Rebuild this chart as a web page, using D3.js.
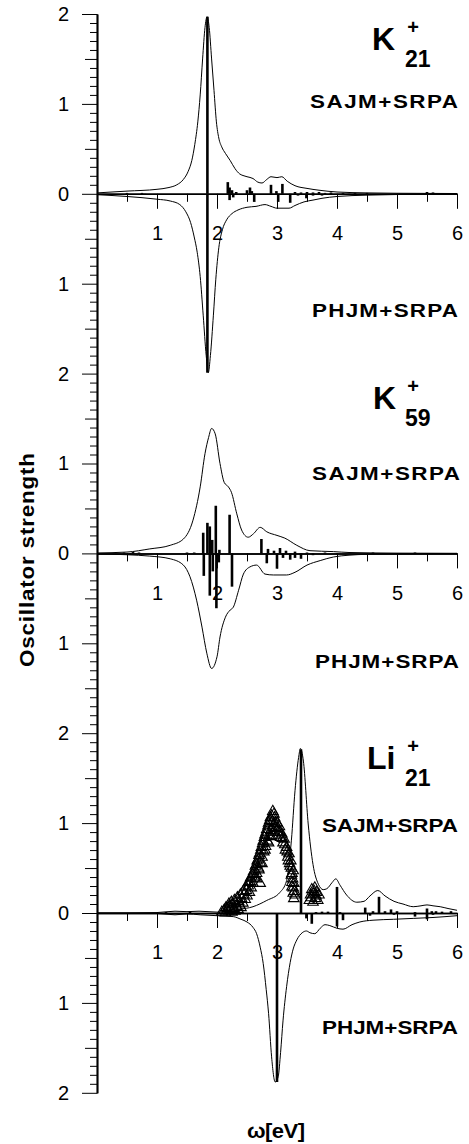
<!DOCTYPE html>
<html>
<head>
<meta charset="utf-8">
<script src="https://d3js.org/d3.v7.min.js"></script>
<style>
body { margin:0; background:#fff; }
svg { display:block; }
.axis text { font-family: "Liberation Sans", Arial, sans-serif; font-size: 20px; fill:#000; }
.axis path, .axis line { stroke:#000; }
.axis path { stroke-width:1.5px; }
.lbl { font-family: "Liberation Sans", Arial, sans-serif; font-weight: bold; fill:#000; }
</style>
</head>
<body>
<script>
// ---- data (omega [eV], oscillator strength) ----
var xTickLabels = [1, 2, 3, 4, 5, 6];
var yTickLabels = [0, 1, 2];

// K21+  SAJM+SRPA (upper) / PHJM+SRPA (lower)
var k21SajmCurve = [[0,0.01],[0.5,0.03],[1.0,0.05],[1.2,0.07],[1.33,0.1],[1.44,0.16],[1.52,0.25],[1.58,0.37],
  [1.63,0.55],[1.68,0.8],[1.72,1.1],[1.76,1.5],[1.8,1.85],[1.835,1.97],[1.87,1.85],[1.91,1.5],[1.95,1.15],
  [1.99,0.8],[2.03,0.62],[2.08,0.52],[2.14,0.45],[2.22,0.37],[2.3,0.28],[2.38,0.22],[2.45,0.2],[2.5,0.19],
  [2.6,0.17],[2.68,0.13],[2.75,0.12],[2.83,0.16],[2.9,0.19],[3.0,0.18],[3.08,0.19],[3.17,0.14],[3.3,0.09],
  [3.5,0.06],[3.7,0.04],[4.0,0.02],[4.5,0.01],[5.0,0.006],[6.0,0.003]];
var k21PhjmCurve = [[0,0.01],[0.5,0.03],[1.0,0.06],[1.22,0.08],[1.38,0.12],[1.48,0.2],[1.56,0.32],[1.62,0.48],
  [1.67,0.65],[1.72,0.92],[1.77,1.35],[1.82,1.8],[1.855,1.99],[1.89,1.8],[1.94,1.35],[1.98,0.95],[2.03,0.6],
  [2.09,0.4],[2.16,0.29],[2.25,0.22],[2.35,0.18],[2.5,0.15],[2.65,0.14],[2.8,0.12],[2.9,0.14],[3.0,0.16],
  [3.1,0.16],[3.2,0.16],[3.3,0.13],[3.45,0.09],[3.6,0.07],[3.75,0.05],[4.0,0.03],[4.5,0.015],[5.0,0.008],[6.0,0.003]];
var k21SajmSticks = [[0.5,0.01],[0.75,0.01],[1.84,1.97],[2.18,0.13],[2.21,0.07],[2.25,0.04],[2.32,0.02],
  [2.5,0.04],[2.55,0.07],[2.58,0.03],[2.9,0.1],[2.99,0.03],[3.09,0.11],[3.3,0.02],[3.4,0.015],[3.5,0.02],
  [3.6,0.015],[3.7,0.02],[3.8,0.01],[3.9,0.015],[4.1,0.01],[4.3,0.01],[4.5,0.01],[5.5,0.02],[5.6,0.015]];
var k21PhjmSticks = [[0.8,0.01],[1.84,1.99],[2.21,0.07],[2.27,0.04],[2.62,0.09],[3.02,0.09],[3.22,0.1],
  [3.35,0.02],[3.49,0.05],[3.6,0.02],[3.75,0.02],[3.9,0.01],[4.2,0.01]];

// K59+
var k59SajmCurve = [[0,0.005],[0.5,0.015],[0.88,0.05],[1.22,0.09],[1.44,0.16],[1.6,0.37],[1.72,0.74],
  [1.8,1.11],[1.86,1.29],[1.91,1.39],[1.97,1.33],[2.05,1.0],[2.12,0.79],[2.19,0.74],[2.24,0.68],[2.33,0.44],
  [2.41,0.26],[2.52,0.18],[2.61,0.22],[2.72,0.29],[2.83,0.24],[3.0,0.2],[3.13,0.17],[3.33,0.09],[3.55,0.03],
  [3.94,0.02],[4.2,0.01],[5.0,0.003],[6.0,0.001]];
var k59PhjmCurve = [[0,0.005],[0.5,0.015],[0.88,0.03],[1.22,0.06],[1.44,0.13],[1.55,0.26],[1.66,0.52],
  [1.75,0.82],[1.83,1.11],[1.91,1.28],[2.0,1.15],[2.05,0.93],[2.14,0.71],[2.22,0.63],[2.27,0.6],[2.36,0.41],
  [2.44,0.23],[2.55,0.15],[2.66,0.13],[2.8,0.23],[2.94,0.24],[3.16,0.24],[3.3,0.21],[3.5,0.13],[3.72,0.08],
  [3.94,0.04],[4.2,0.02],[4.5,0.01],[5.0,0.005],[6.0,0.001]];
var k59SajmSticks = [[0.45,0.01],[0.6,0.015],[0.7,0.01],[1.5,0.01],[1.62,0.01],[1.77,0.23],[1.84,0.34],
  [1.88,0.3],[1.92,0.15],[1.98,0.53],[2.04,0.04],[2.21,0.43],[2.74,0.16],[2.85,0.05],[2.95,0.03],
  [3.05,0.06],[3.15,0.03],[3.3,0.02],[3.5,0.01],[3.8,0.01],[4.6,0.01],[5.3,0.01]];
var k59PhjmSticks = [[0.55,0.01],[1.78,0.25],[1.88,0.47],[1.93,0.2],[1.99,0.61],[2.03,0.1],[2.25,0.37],
  [2.83,0.11],[3.0,0.17],[3.1,0.05],[3.22,0.07],[3.3,0.05],[3.4,0.06],[3.6,0.02],[4.0,0.01]];

// Li21+
var li21SajmCurve = [[0,0.0],[1.0,0.005],[1.3,0.02],[1.5,0.015],[1.7,0.02],[2.0,0.01],[2.16,0.01],
  [2.38,0.04],[2.6,0.07],[2.83,0.14],[3.05,0.23],[3.16,0.36],[3.24,0.81],[3.3,1.36],[3.36,1.73],[3.39,1.83],
  [3.44,1.69],[3.52,0.99],[3.6,0.54],[3.69,0.32],[3.77,0.26],[3.83,0.27],[3.92,0.34],[3.98,0.38],[4.05,0.31],
  [4.16,0.2],[4.33,0.12],[4.45,0.13],[4.55,0.19],[4.68,0.25],[4.8,0.19],[4.95,0.13],[5.1,0.1],[5.27,0.07],
  [5.4,0.08],[5.5,0.09],[5.6,0.08],[5.72,0.07],[5.85,0.05],[6.0,0.03]];
var li21PhjmCurve = [[0,0.0],[1.0,0.005],[1.3,0.02],[1.5,0.01],[1.72,0.02],[2.0,0.03],[2.27,0.04],[2.4,0.07],
  [2.5,0.1],[2.6,0.16],[2.66,0.23],[2.72,0.38],[2.77,0.56],[2.82,0.85],[2.86,1.12],[2.91,1.6],[2.97,1.88],
  [3.02,1.82],[3.06,1.55],[3.1,1.2],[3.16,0.82],[3.22,0.55],[3.27,0.4],[3.33,0.3],[3.42,0.22],[3.49,0.2],
  [3.55,0.22],[3.63,0.23],[3.72,0.17],[3.8,0.13],[3.88,0.14],[4.0,0.17],[4.1,0.18],[4.25,0.13],[4.38,0.1],
  [4.6,0.08],[4.94,0.07],[5.27,0.06],[5.6,0.05],[6.0,0.03]];
var li21SajmSticks = [[1.15,0.01],[1.55,0.015],[3.4,1.82],[3.65,0.01],[3.75,0.015],[3.85,0.015],[4.0,0.29],
  [4.05,0.01],[4.47,0.06],[4.6,0.02],[4.7,0.18],[4.8,0.02],[4.9,0.04],[5.0,0.02],[5.3,0.01],[5.5,0.05],
  [5.58,0.02],[5.65,0.02],[5.75,0.015],[5.9,0.02]];
var li21PhjmSticks = [[3.0,1.88],[3.49,0.06],[3.58,0.12],[4.0,0.15],[4.1,0.08],[4.55,0.03],[4.95,0.02],
  [5.3,0.04],[5.5,0.07],[5.6,0.02]];
// experimental points (triangles), Li21+
var li21Exp = [[2.08,0.01],[2.12,0.03],[2.14,0.0],[2.17,0.05],[2.19,0.02],[2.21,0.07],[2.23,0.04],[2.25,0.01],
  [2.26,0.09],[2.28,0.05],[2.3,0.02],[2.31,0.11],[2.33,0.07],[2.35,0.04],[2.36,0.13],[2.38,0.09],[2.4,0.06],
  [2.41,0.16],[2.43,0.11],[2.45,0.2],[2.47,0.15],[2.49,0.25],[2.5,0.19],[2.52,0.3],[2.54,0.23],[2.55,0.35],
  [2.57,0.28],[2.58,0.41],[2.6,0.33],[2.61,0.46],[2.63,0.39],[2.64,0.52],[2.66,0.44],[2.67,0.58],[2.69,0.5],
  [2.7,0.64],[2.72,0.56],[2.72,0.33],[2.73,0.7],[2.75,0.62],[2.76,0.77],[2.78,0.68],[2.79,0.84],[2.81,0.74],
  [2.82,0.9],[2.84,0.8],[2.85,0.97],[2.87,0.86],[2.88,1.03],[2.9,0.92],[2.91,1.08],[2.93,1.13],[2.94,0.98],
  [2.96,1.06],[2.98,0.95],[3.0,1.0],[3.02,0.9],[3.04,0.96],[3.06,0.84],[3.08,0.88],[3.1,0.78],[3.12,0.82],
  [3.14,0.7],[3.16,0.73],[3.18,0.62],[3.2,0.66],[3.21,0.55],[3.23,0.58],[3.24,0.5],[3.25,0.44],[3.27,0.47],
  [3.26,0.38],[3.28,0.33],[3.27,0.28],[3.29,0.24],[3.3,0.2],[3.28,0.16],
  [2.15,0.06],[2.2,0.1],[2.24,0.12],[2.29,0.14],[2.34,0.17],[2.39,0.2],[2.44,0.24],[2.48,0.29],[2.53,0.34],
  [2.56,0.39],[2.6,0.43],[2.63,0.48],[2.66,0.54],[2.69,0.6],[2.71,0.66],[2.74,0.73],[2.77,0.8],[2.8,0.87],
  [2.83,0.93],[2.86,1.0],[2.89,1.06],[2.92,1.02],[2.95,1.1],[2.97,1.0],[3.01,0.94],[3.05,0.9],[3.09,0.83],
  [3.13,0.76],[3.17,0.68],[3.19,0.58],[3.22,0.52],[3.24,0.42],[3.25,0.34],[3.27,0.22],[3.25,0.29],
  [2.86,0.78],[2.9,0.85],[2.94,0.9],[2.99,0.86],[2.8,0.7],[2.75,0.55],[2.7,0.48],[2.66,0.38],
  [3.54,0.14],[3.56,0.2],[3.58,0.26],[3.6,0.12],[3.61,0.21],[3.63,0.28],[3.64,0.16],[3.66,0.23],[3.68,0.14],[3.7,0.2],
  [3.57,0.17],[3.62,0.24],[3.65,0.19]];

// ---- layout ----
var W = 469, H = 1144;
var UNIT = 89.9, TOP = 14;
var svg = d3.select("body").append("svg").attr("width", W).attr("height", H);

var x = d3.scaleLinear().domain([0, 6]).range([97, 457]);

var panels = [
  {zero: TOP + 2 * UNIT, up: k21SajmCurve, dn: k21PhjmCurve, upS: k21SajmSticks, dnS: k21PhjmSticks,
   atom: "K", sub: "21", atomX: 372, sajm: [310, 108, 148], phjm: [312, 317, 146], topLabel: true},
  {zero: TOP + 6 * UNIT, up: k59SajmCurve, dn: k59PhjmCurve, upS: k59SajmSticks, dnS: k59PhjmSticks,
   atom: "K", sub: "59", atomX: 373, sajm: [312, 480, 148], phjm: [315, 668, 144], topLabel: false},
  {zero: TOP + 10 * UNIT, up: li21SajmCurve, dn: li21PhjmCurve, upS: li21SajmSticks, dnS: li21PhjmSticks,
   atom: "Li", sub: "21", atomX: 367, sajm: [322, 832, 136], phjm: [322, 1034, 136], topLabel: false, exp: li21Exp}
];

var minorTicks = d3.range(1, 20).filter(function(i) { return i % 5 !== 0; }).map(function(i) { return i / 10; });

// wide bold label: glyphs stretched horizontally like the original
function wideText(parent, x0, y0, len, size, sx, str) {
  parent.append("text").attr("class", "lbl")
    .attr("transform", "translate(" + x0 + "," + y0 + ") scale(" + sx + ",1)")
    .attr("textLength", len / sx).attr("lengthAdjust", "spacing")
    .style("font-size", size + "px").text(str);
}

panels.forEach(function(p) {
  var g = svg.append("g");
  var yU = d3.scaleLinear().domain([0, 2]).range([p.zero, p.zero - 2 * UNIT]);
  var yD = d3.scaleLinear().domain([0, 2]).range([p.zero, p.zero + 2 * UNIT]);

  [yU, yD].forEach(function(ys, k) {
    g.append("g").attr("class", "axis").attr("transform", "translate(97,0)")
      .call(d3.axisLeft(ys).tickValues(minorTicks).tickSize(7).tickSizeOuter(0).tickFormat(""));
    g.append("g").attr("class", "axis").attr("transform", "translate(97,0)")
      .call(d3.axisLeft(ys).tickValues([0.5, 1.5]).tickSize(12).tickSizeOuter(0).tickFormat(""));
    var labels = k === 0 ? (p.topLabel ? yTickLabels : yTickLabels.slice(0, 2)) : yTickLabels.slice(1);
    g.append("g").attr("class", "axis").attr("transform", "translate(97,0)")
      .call(d3.axisLeft(ys).tickValues(labels).tickSize(15).tickPadding(13).tickSizeOuter(0)
        .tickFormat(d3.format("d")));
  });

  g.append("g").attr("class", "axis").attr("transform", "translate(0," + p.zero + ")")
    .call(d3.axisBottom(x).tickValues([0.5, 1.5, 2.5, 3.5, 4.5, 5.5]).tickSize(8).tickSizeOuter(0).tickFormat(""));
  g.append("g").attr("class", "axis").attr("transform", "translate(0," + p.zero + ")")
    .call(d3.axisBottom(x).tickValues(xTickLabels).tickSize(15).tickPadding(17).tickSizeOuter(0)
      .tickFormat(d3.format("d")));

  var lineU = d3.line().x(function(d) { return x(d[0]); }).y(function(d) { return yU(d[1]); }).curve(d3.curveMonotoneX);
  var lineD = d3.line().x(function(d) { return x(d[0]); }).y(function(d) { return yD(d[1]); }).curve(d3.curveMonotoneX);

  if (p.exp) {
    g.selectAll(".exp").data(p.exp).enter().append("path")
      .attr("d", d3.symbol(d3.symbolTriangle, 48))
      .attr("transform", function(d) { return "translate(" + x(d[0]) + "," + yU(d[1]) + ")"; })
      .attr("fill", "none").attr("stroke", "#000").attr("stroke-width", 1.1);
  }

  g.append("path").datum(p.up).attr("d", lineU).attr("fill", "none").attr("stroke", "#000").attr("stroke-width", 1);
  g.append("path").datum(p.dn).attr("d", lineD).attr("fill", "none").attr("stroke", "#000").attr("stroke-width", 1);

  g.selectAll(".su").data(p.upS).enter().append("line")
    .attr("x1", function(d) { return x(d[0]); }).attr("x2", function(d) { return x(d[0]); })
    .attr("y1", yU(0)).attr("y2", function(d) { return yU(d[1]); })
    .attr("stroke", "#000").attr("stroke-width", 2.6);
  g.selectAll(".sd").data(p.dnS).enter().append("line")
    .attr("x1", function(d) { return x(d[0]); }).attr("x2", function(d) { return x(d[0]); })
    .attr("y1", yD(0)).attr("y2", function(d) { return yD(d[1]); })
    .attr("stroke", "#000").attr("stroke-width", 2.6);

  // species label
  var ty = p.zero - 144;
  g.append("text").attr("class", "lbl").attr("x", p.atomX).attr("y", ty).style("font-size", "32px").text(p.atom);
  g.append("text").attr("class", "lbl").attr("x", 413).attr("y", ty - 16).attr("text-anchor", "middle")
    .style("font-size", "20px").text("+");
  g.append("text").attr("class", "lbl").attr("x", 405).attr("y", ty + 17).style("font-size", "23px").text(p.sub);

  wideText(g, p.sajm[0], p.sajm[1], p.sajm[2], 19, 1.18, "SAJM+SRPA");
  wideText(g, p.phjm[0], p.phjm[1], p.phjm[2], 19, 1.18, "PHJM+SRPA");
});

svg.append("text").attr("class", "lbl")
  .attr("transform", "translate(34,560) rotate(-90) scale(1.12,1)").attr("text-anchor", "middle")
  .attr("textLength", 214 / 1.12).attr("lengthAdjust", "spacing")
  .style("font-size", "20px").text("Oscillator strength");

svg.append("text").attr("class", "lbl")
  .attr("transform", "translate(247,1138) scale(1.1,1)")
  .attr("textLength", 58 / 1.1).attr("lengthAdjust", "spacing")
  .style("font-size", "20px").text("\u03c9[eV]");
</script>
</body>
</html>
